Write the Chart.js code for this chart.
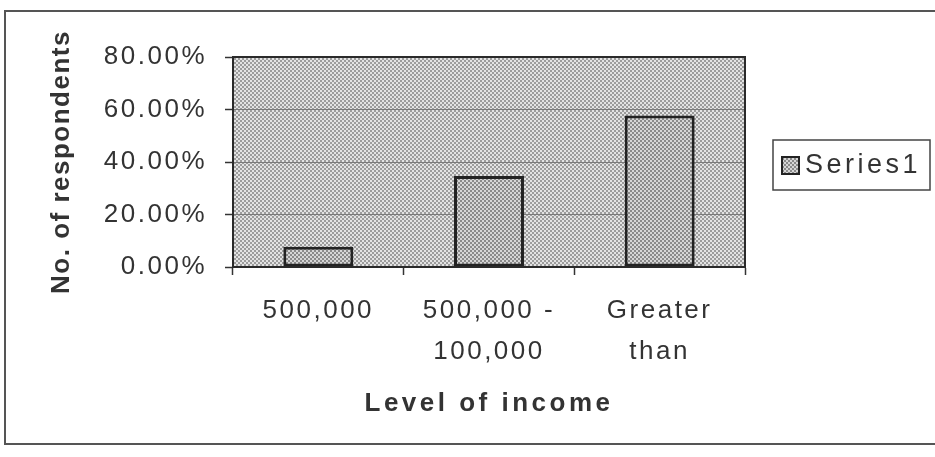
<!DOCTYPE html>
<html>
<head>
<meta charset="utf-8">
<script src="https://cdn.jsdelivr.net/npm/chart.js@4"></script>
<style>
    html, body { margin: 0; padding: 0; background: #fff; }
    #wrap { width: 935px; height: 457px; position: relative; }
</style>
</head>
<body>
<div id="wrap"><canvas id="chart"></canvas></div>
<script>
// --- data ---
const incomeLevels = [['500,000'], ['500,000 -', '100,000'], ['Greater', 'than']];
const seriesName = 'Series1';
const respondentShare = [7.69, 34.62, 57.69];
const yTickMax = 80;
const yTickStep = 20;

const FONT = 'Liberation Sans, Arial, sans-serif';

// stipple fills like the old scanned excel chart
function makeStipple(light, dark) {
    const c = document.createElement('canvas');
    c.width = 4; c.height = 4;
    const g = c.getContext('2d');
    g.fillStyle = light;
    g.fillRect(0, 0, 4, 4);
    g.fillStyle = dark;
    g.fillRect(0, 0, 2, 2);
    g.fillRect(2, 2, 2, 2);
    return c;
}

const canvas = document.getElementById('chart');
const ctx = canvas.getContext('2d');
const plotFill = ctx.createPattern(makeStipple('#e3e3e3', '#9c9c9c'), 'repeat');
const barFill = ctx.createPattern(makeStipple('#d6d6d6', '#8a8a8a'), 'repeat');

// letter spacing for axis titles
function spacedTitle(spacing) {
    return function (scale) {
        if (scale._spacedTitle) return;
        scale._spacedTitle = true;
        const orig = scale.drawTitle;
        scale.drawTitle = function () {
            const c = this.ctx;
            const prev = c.letterSpacing;
            c.letterSpacing = spacing;
            orig.apply(this, arguments);
            c.letterSpacing = prev;
        };
    };
}

const plotFrame = {
    id: 'plotFrame',
    beforeUpdate(chart) {
        // canvas resize wipes ctx state, so set the wide tick spacing here
        chart.ctx.letterSpacing = '2.5px';
    },
    beforeDraw(chart) {
        const { ctx: c, chartArea: a } = chart;
        c.save();
        // outer chart border
        c.strokeStyle = '#555';
        c.lineWidth = 2;
        c.strokeRect(5, 11, chart.width + 10, 433);
        c.fillStyle = plotFill;
        c.fillRect(a.left, a.top, a.right - a.left, a.bottom - a.top);
        c.restore();
    },
    afterDatasetsDraw(chart) {
        const { ctx: c, chartArea: a } = chart;
        c.save();
        c.strokeStyle = '#2a2a2a';
        c.lineWidth = 2;
        c.strokeRect(a.left, a.top, a.right - a.left, a.bottom - a.top);
        c.restore();
    }
};

const seriesLegend = {
    id: 'seriesLegend',
    afterDraw(chart) {
        const c = chart.ctx;
        const ds = chart.data.datasets[0];
        c.save();
        c.fillStyle = '#fff';
        c.fillRect(773, 140, 157, 50);
        c.strokeStyle = '#444';
        c.lineWidth = 1.5;
        c.strokeRect(773, 140, 157, 50);
        c.fillStyle = barFill;
        c.fillRect(782, 157, 17, 17);
        c.strokeStyle = '#222';
        c.lineWidth = 2;
        c.strokeRect(782, 157, 17, 17);
        c.fillStyle = '#333';
        c.font = '27px ' + FONT;
        c.letterSpacing = '3.5px';
        c.textBaseline = 'middle';
        c.fillText(ds.label, 805, 166);
        c.restore();
    }
};

new Chart(ctx, {
    type: 'bar',
    data: {
        labels: incomeLevels,
        datasets: [{
            label: seriesName,
            data: respondentShare,
            backgroundColor: barFill,
            borderColor: '#222',
            borderWidth: 3,
            borderSkipped: false,
            categoryPercentage: 1,
            barPercentage: 0.41
        }]
    },
    options: {
        responsive: true,
        maintainAspectRatio: false,
        animation: false,
        devicePixelRatio: 1,
        layout: { padding: { left: 0, right: 190, top: 57, bottom: 0 } },
        plugins: {
            legend: { display: false },
            tooltip: { enabled: false }
        },
        scales: {
            x: {
                afterFit(scale) { scale.height = 190; },
                afterUpdate: spacedTitle('3.5px'),
                grid: {
                    offset: true,
                    drawOnChartArea: false,
                    drawTicks: true,
                    tickLength: 8,
                    tickColor: '#333',
                    tickWidth: 1.5
                },
                border: { display: true, color: '#2a2a2a', width: 2 },
                ticks: {
                    color: '#333',
                    padding: 16,
                    maxRotation: 0,
                    autoSkip: false,
                    font: { family: FONT, size: 26, lineHeight: 1.55 }
                },
                title: {
                    display: true,
                    text: 'Level of income',
                    color: '#333',
                    padding: { top: 0, bottom: 38 },
                    font: { family: FONT, size: 26, weight: 'bold', lineHeight: 1.2 }
                }
            },
            y: {
                min: 0,
                max: yTickMax,
                afterFit(scale) { scale.width = 233; },
                afterUpdate: spacedTitle('1.5px'),
                grid: {
                    color: '#7a7a7a',
                    lineWidth: 1,
                    drawTicks: true,
                    tickLength: 8,
                    tickColor: '#333',
                    tickWidth: 1.5
                },
                border: { display: true, color: '#2a2a2a', width: 2 },
                ticks: {
                    stepSize: yTickStep,
                    color: '#333',
                    padding: 18,
                    font: { family: FONT, size: 26 },
                    callback: v => v.toFixed(2) + '%'
                },
                title: {
                    display: true,
                    text: 'No. of respondents',
                    color: '#333',
                    padding: { top: 46, bottom: 0 },
                    font: { family: FONT, size: 26, weight: 'bold', lineHeight: 1.2 }
                }
            }
        }
    },
    plugins: [plotFrame, seriesLegend]
});
</script>
</body>
</html>
